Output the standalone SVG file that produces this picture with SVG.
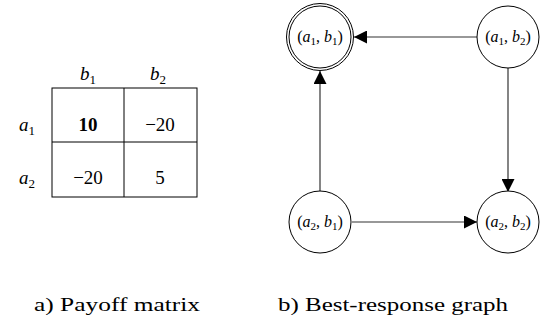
<svg xmlns="http://www.w3.org/2000/svg" width="545" height="332" viewBox="0 0 545 332" font-family="Liberation Serif">
<defs>
<marker id="ah" viewBox="0 0 10 10" refX="10" refY="5" markerWidth="13" markerHeight="13" markerUnits="userSpaceOnUse" orient="auto">
<path d="M0,0 L10,5 L0,10 z" fill="#000"/>
</marker>
</defs>
<rect width="545" height="332" fill="#fff"/>
<g id="matrix" font-family="Liberation Serif" font-size="19" text-anchor="middle">
<rect x="52" y="88" width="145" height="109" fill="none" stroke="#000"/>
<line x1="124" y1="88" x2="124" y2="197" stroke="#000"/>
<line x1="52" y1="142" x2="197" y2="142" stroke="#000"/>
<text x="88" y="80" font-family="Liberation Serif"><tspan font-style="italic">b</tspan><tspan font-size="13" dy="4">1</tspan></text>
<text x="158" y="80" font-family="Liberation Serif"><tspan font-style="italic">b</tspan><tspan font-size="13" dy="4">2</tspan></text>
<text x="27" y="131" font-family="Liberation Serif"><tspan font-style="italic">a</tspan><tspan font-size="13" dy="4">1</tspan></text>
<text x="27" y="184" font-family="Liberation Serif"><tspan font-style="italic">a</tspan><tspan font-size="13" dy="4">2</tspan></text>
<text x="88" y="131" font-family="Liberation Serif" font-weight="bold">10</text>
<text x="160" y="131" font-family="Liberation Serif">−20</text>
<text x="88" y="184" font-family="Liberation Serif">−20</text>
<text x="160" y="184" font-family="Liberation Serif">5</text>
</g>
<g id="connectors" stroke="#333" stroke-width="1.2" fill="none">
<line x1="477" y1="37" x2="354" y2="37" marker-end="url(#ah)"/>
<line x1="508" y1="68" x2="508" y2="192" marker-end="url(#ah)"/>
<line x1="320" y1="192" x2="320" y2="71" marker-end="url(#ah)"/>
<line x1="352" y1="222" x2="477" y2="222" marker-end="url(#ah)"/>
</g>
<g id="n11" font-family="Liberation Serif" font-size="16" text-anchor="middle">
<circle cx="320" cy="37" r="33.5" fill="#fff" stroke="#000"/>
<circle cx="320" cy="37" r="31" fill="#fff" stroke="#000"/>
<text x="320" y="42" font-family="Liberation Serif">(<tspan font-style="italic">a</tspan><tspan font-size="11" dy="3">1</tspan><tspan dy="-3">, </tspan><tspan font-style="italic">b</tspan><tspan font-size="11" dy="3">1</tspan><tspan dy="-3">)</tspan></text>
</g>
<g id="n12" font-family="Liberation Serif" font-size="16" text-anchor="middle">
<circle cx="508" cy="37" r="31" fill="#fff" stroke="#000"/>
<text x="508" y="42" font-family="Liberation Serif">(<tspan font-style="italic">a</tspan><tspan font-size="11" dy="3">1</tspan><tspan dy="-3">, </tspan><tspan font-style="italic">b</tspan><tspan font-size="11" dy="3">2</tspan><tspan dy="-3">)</tspan></text>
</g>
<g id="n21" font-family="Liberation Serif" font-size="16" text-anchor="middle">
<circle cx="320" cy="222" r="31" fill="#fff" stroke="#000"/>
<text x="320" y="227" font-family="Liberation Serif">(<tspan font-style="italic">a</tspan><tspan font-size="11" dy="3">2</tspan><tspan dy="-3">, </tspan><tspan font-style="italic">b</tspan><tspan font-size="11" dy="3">1</tspan><tspan dy="-3">)</tspan></text>
</g>
<g id="n22" font-family="Liberation Serif" font-size="16" text-anchor="middle">
<circle cx="508" cy="222" r="31" fill="#fff" stroke="#000"/>
<text x="508" y="227" font-family="Liberation Serif">(<tspan font-style="italic">a</tspan><tspan font-size="11" dy="3">2</tspan><tspan dy="-3">, </tspan><tspan font-style="italic">b</tspan><tspan font-size="11" dy="3">2</tspan><tspan dy="-3">)</tspan></text>
</g>
<g id="captions" font-family="Liberation Serif" font-size="19">
<text x="34" y="311" font-family="Liberation Serif" textLength="166" lengthAdjust="spacingAndGlyphs">a) Payoff matrix</text>
<text x="278" y="311" font-family="Liberation Serif" textLength="230" lengthAdjust="spacingAndGlyphs">b) Best-response graph</text>
</g>
</svg>
